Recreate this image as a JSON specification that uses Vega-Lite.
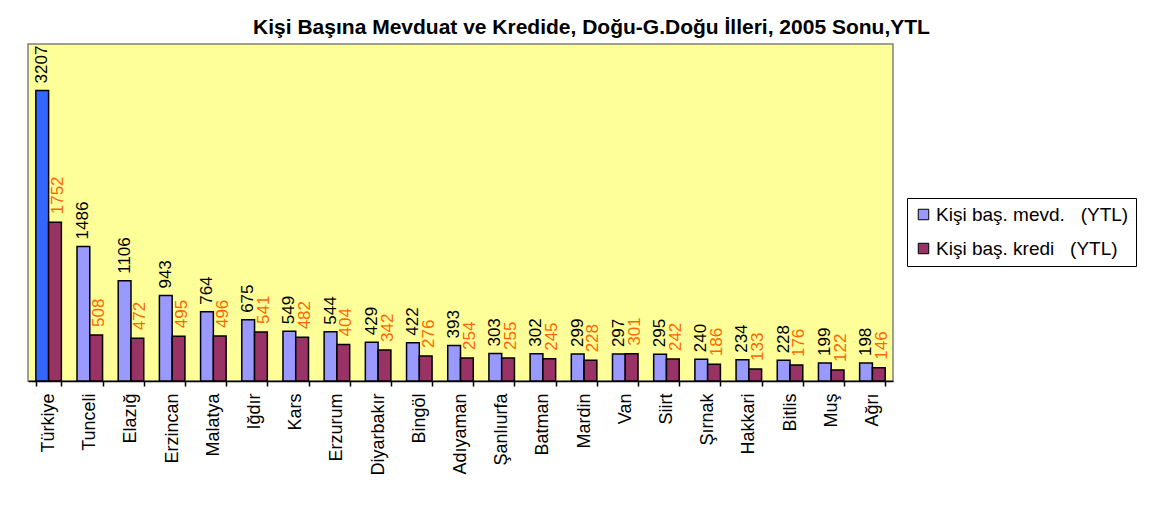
{
  "$schema": "https://vega.github.io/schema/vega-lite/v6.json",
  "autosize": "none",
  "width": 865,
  "height": 337,
  "padding": {"left": 28, "top": 44, "right": 262, "bottom": 125},
  "background": "white",
  "title": {
    "text": "Kişi Başına Mevduat ve Kredide, Doğu-G.Doğu İlleri, 2005 Sonu,YTL",
    "font": "Liberation Sans",
    "fontSize": 21,
    "fontWeight": "bold",
    "color": "black",
    "anchor": "middle",
    "dx": 131,
    "offset": 6
  },
  "data": {
    "values": [
      {"il": "Türkiye", "seri": "Kişi baş. mevd.  (YTL)", "deger": 3207},
      {"il": "Türkiye", "seri": "Kişi baş. kredi  (YTL)", "deger": 1752},
      {"il": "Tunceli", "seri": "Kişi baş. mevd.  (YTL)", "deger": 1486},
      {"il": "Tunceli", "seri": "Kişi baş. kredi  (YTL)", "deger": 508},
      {"il": "Elazığ", "seri": "Kişi baş. mevd.  (YTL)", "deger": 1106},
      {"il": "Elazığ", "seri": "Kişi baş. kredi  (YTL)", "deger": 472},
      {"il": "Erzincan", "seri": "Kişi baş. mevd.  (YTL)", "deger": 943},
      {"il": "Erzincan", "seri": "Kişi baş. kredi  (YTL)", "deger": 495},
      {"il": "Malatya", "seri": "Kişi baş. mevd.  (YTL)", "deger": 764},
      {"il": "Malatya", "seri": "Kişi baş. kredi  (YTL)", "deger": 496},
      {"il": "Iğdır", "seri": "Kişi baş. mevd.  (YTL)", "deger": 675},
      {"il": "Iğdır", "seri": "Kişi baş. kredi  (YTL)", "deger": 541},
      {"il": "Kars", "seri": "Kişi baş. mevd.  (YTL)", "deger": 549},
      {"il": "Kars", "seri": "Kişi baş. kredi  (YTL)", "deger": 482},
      {"il": "Erzurum", "seri": "Kişi baş. mevd.  (YTL)", "deger": 544},
      {"il": "Erzurum", "seri": "Kişi baş. kredi  (YTL)", "deger": 404},
      {"il": "Diyarbakır", "seri": "Kişi baş. mevd.  (YTL)", "deger": 429},
      {"il": "Diyarbakır", "seri": "Kişi baş. kredi  (YTL)", "deger": 342},
      {"il": "Bingöl", "seri": "Kişi baş. mevd.  (YTL)", "deger": 422},
      {"il": "Bingöl", "seri": "Kişi baş. kredi  (YTL)", "deger": 276},
      {"il": "Adıyaman", "seri": "Kişi baş. mevd.  (YTL)", "deger": 393},
      {"il": "Adıyaman", "seri": "Kişi baş. kredi  (YTL)", "deger": 254},
      {"il": "Şanlıurfa", "seri": "Kişi baş. mevd.  (YTL)", "deger": 303},
      {"il": "Şanlıurfa", "seri": "Kişi baş. kredi  (YTL)", "deger": 255},
      {"il": "Batman", "seri": "Kişi baş. mevd.  (YTL)", "deger": 302},
      {"il": "Batman", "seri": "Kişi baş. kredi  (YTL)", "deger": 245},
      {"il": "Mardin", "seri": "Kişi baş. mevd.  (YTL)", "deger": 299},
      {"il": "Mardin", "seri": "Kişi baş. kredi  (YTL)", "deger": 228},
      {"il": "Van", "seri": "Kişi baş. mevd.  (YTL)", "deger": 297},
      {"il": "Van", "seri": "Kişi baş. kredi  (YTL)", "deger": 301},
      {"il": "Siirt", "seri": "Kişi baş. mevd.  (YTL)", "deger": 295},
      {"il": "Siirt", "seri": "Kişi baş. kredi  (YTL)", "deger": 242},
      {"il": "Şırnak", "seri": "Kişi baş. mevd.  (YTL)", "deger": 240},
      {"il": "Şırnak", "seri": "Kişi baş. kredi  (YTL)", "deger": 186},
      {"il": "Hakkari", "seri": "Kişi baş. mevd.  (YTL)", "deger": 234},
      {"il": "Hakkari", "seri": "Kişi baş. kredi  (YTL)", "deger": 133},
      {"il": "Bitlis", "seri": "Kişi baş. mevd.  (YTL)", "deger": 228},
      {"il": "Bitlis", "seri": "Kişi baş. kredi  (YTL)", "deger": 176},
      {"il": "Muş", "seri": "Kişi baş. mevd.  (YTL)", "deger": 199},
      {"il": "Muş", "seri": "Kişi baş. kredi  (YTL)", "deger": 122},
      {"il": "Ağrı", "seri": "Kişi baş. mevd.  (YTL)", "deger": 198},
      {"il": "Ağrı", "seri": "Kişi baş. kredi  (YTL)", "deger": 146}
    ]
  },
  "encoding": {
    "x": {
      "field": "il",
      "type": "nominal",
      "sort": null,
      "scale": {"paddingInner": 0.38, "paddingOuter": 0.19},
      "axis": {
        "title": null,
        "labelAngle": -90,
        "labelFont": "Liberation Sans",
        "labelFontSize": 18,
        "labelColor": "black",
        "labelPadding": 7,
        "tickBand": "extent",
        "tickSize": 5,
        "tickColor": "black",
        "domainColor": "black",
        "domainWidth": 1.5,
        "tickWidth": 1.5,
        "grid": false
      }
    },
    "xOffset": {
      "field": "seri",
      "type": "nominal",
      "sort": ["Kişi baş. mevd.  (YTL)", "Kişi baş. kredi  (YTL)"],
      "scale": {"paddingInner": 0, "paddingOuter": 0}
    },
    "y": {
      "field": "deger",
      "type": "quantitative",
      "scale": {"domain": [0, 3720], "nice": false, "zero": true},
      "axis": null
    }
  },
  "layer": [
    {
      "mark": {"type": "bar", "stroke": "black", "strokeWidth": 1.5},
      "encoding": {
        "fill": {
          "condition": {
            "test": "datum.il === 'Türkiye' && datum.seri === 'Kişi baş. mevd.  (YTL)'",
            "value": "#3366FF"
          },
          "field": "seri",
          "type": "nominal",
          "sort": ["Kişi baş. mevd.  (YTL)", "Kişi baş. kredi  (YTL)"],
          "scale": {
            "domain": ["Kişi baş. mevd.  (YTL)", "Kişi baş. kredi  (YTL)"],
            "range": ["#9999FF", "#993366"]
          },
          "legend": {
            "title": null,
            "orient": "none",
            "legendX": 879,
            "legendY": 154,
            "strokeColor": "black",
            "fillColor": "white",
            "padding": 7,
            "symbolType": "square",
            "symbolSize": 110,
            "symbolStrokeColor": "black",
            "symbolStrokeWidth": 1,
            "labelFont": "Liberation Sans",
            "labelFontSize": 19,
            "labelColor": "black",
            "labelLimit": 300,
            "rowPadding": 14,
            "labelOffset": 3,
            "labelExpr": "replace(datum.label, '  ', '\u00a0\u00a0\u00a0')"
          }
        }
      }
    },
    {
      "transform": [{"filter": "datum.seri === 'Kişi baş. mevd.  (YTL)'"}],
      "mark": {
        "type": "text",
        "angle": -90,
        "align": "left",
        "baseline": "middle",
        "dx": 7,
        "font": "Liberation Sans",
        "fontSize": 17,
        "color": "black"
      },
      "encoding": {"text": {"field": "deger", "type": "quantitative"}}
    },
    {
      "transform": [{"filter": "datum.seri === 'Kişi baş. kredi  (YTL)'"}],
      "mark": {
        "type": "text",
        "angle": -90,
        "align": "left",
        "baseline": "middle",
        "dx": 8,
        "dy": 3,
        "font": "Liberation Sans",
        "fontSize": 17,
        "color": "#FF6600"
      },
      "encoding": {"text": {"field": "deger", "type": "quantitative"}}
    }
  ],
  "config": {
    "view": {"fill": "#FFFF99", "stroke": "#808080", "strokeWidth": 1.5}
  }
}
